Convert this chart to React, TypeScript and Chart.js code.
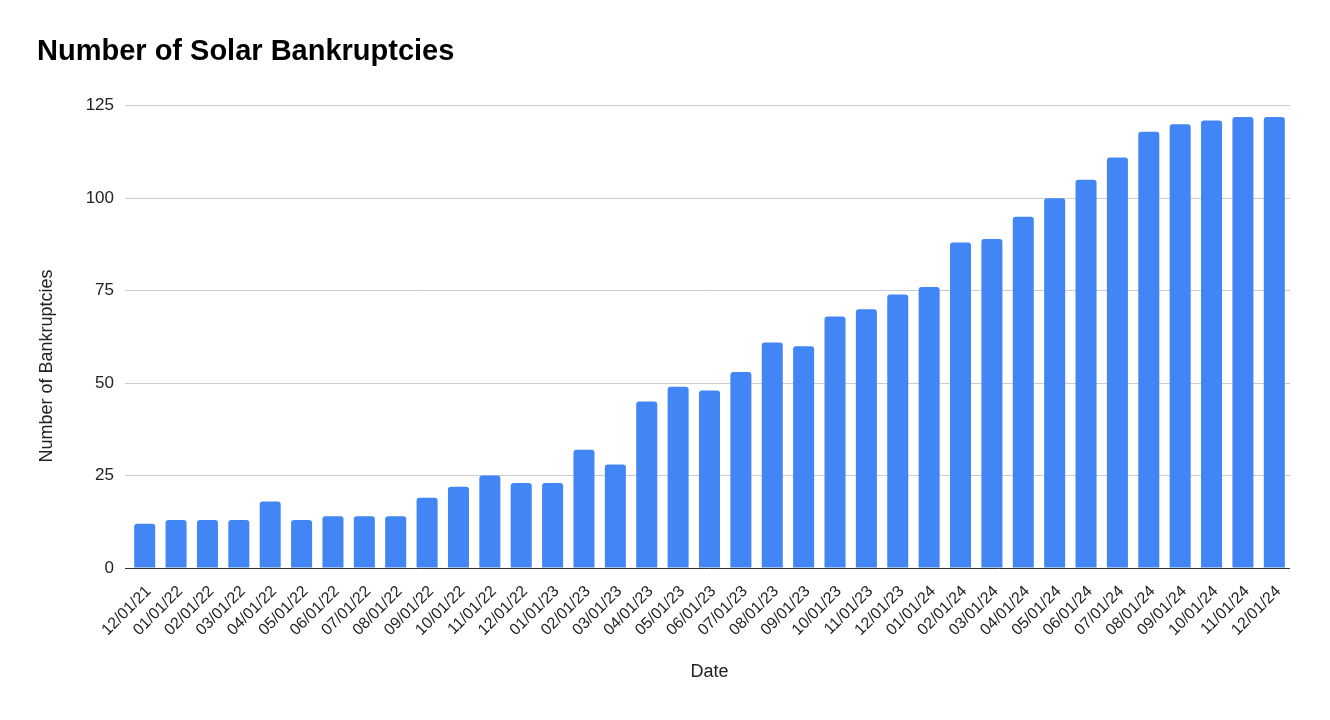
import { useEffect, useRef } from "react"
import Chart from "chart.js/auto"

const dates = [
  "12/01/21", "01/01/22", "02/01/22", "03/01/22", "04/01/22", "05/01/22", "06/01/22",
  "07/01/22", "08/01/22", "09/01/22", "10/01/22", "11/01/22", "12/01/22", "01/01/23",
  "02/01/23", "03/01/23", "04/01/23", "05/01/23", "06/01/23", "07/01/23", "08/01/23",
  "09/01/23", "10/01/23", "11/01/23", "12/01/23", "01/01/24", "02/01/24", "03/01/24",
  "04/01/24", "05/01/24", "06/01/24", "07/01/24", "08/01/24", "09/01/24", "10/01/24",
  "11/01/24", "12/01/24",
]

const bankruptcies = [
  12, 13, 13, 13, 18, 13, 14, 14, 14, 19, 22, 25, 23, 23, 32, 28, 45, 49, 48, 53, 61,
  60, 68, 70, 74, 76, 88, 89, 95, 100, 105, 111, 118, 120, 121, 122, 122,
]

const yTicks = [0, 25, 50, 75, 100, 125]

const FONT = "'Liberation Sans', Arial, sans-serif"
const Y_TITLE = "Number of Bankruptcies"

// the sheet centres the y title on the whole chart height, not the plot area
const yTitlePlugin = {
  id: "yTitle",
  afterDraw(chart: Chart) {
    const { ctx } = chart
    ctx.save()
    ctx.translate(47, 366)
    ctx.rotate(-Math.PI / 2)
    ctx.font = `18px ${FONT}`
    ctx.fillStyle = "#222"
    ctx.textAlign = "center"
    ctx.textBaseline = "middle"
    ctx.fillText(Y_TITLE, 0, 0)
    ctx.restore()
  },
}

export default function App() {
  const canvasRef = useRef<HTMLCanvasElement>(null)
  const chartRef = useRef<Chart | null>(null)

  useEffect(() => {
    if (!canvasRef.current) return
    if (chartRef.current) chartRef.current.destroy()

    const ctx = canvasRef.current.getContext("2d")
    if (!ctx) return

    chartRef.current = new Chart(ctx, {
      type: "bar",
      data: {
        labels: dates,
        datasets: [
          {
            label: Y_TITLE,
            data: bankruptcies,
            backgroundColor: "#4285F4",
            borderRadius: { topLeft: 3, topRight: 3, bottomLeft: 0, bottomRight: 0 },
            borderSkipped: "start",
            categoryPercentage: 1,
            barPercentage: 0.67,
          },
        ],
      },
      options: {
        responsive: true,
        maintainAspectRatio: false,
        animation: false,
        layout: {
          padding: { top: 0, left: 37, right: 40, bottom: 30 },
        },
        plugins: {
          legend: { display: false },
          tooltip: { enabled: false },
          title: {
            display: true,
            text: "Number of Solar Bankruptcies",
            align: "start",
            color: "#000",
            font: { family: FONT, size: 29, weight: "bold" },
            padding: { top: 35, bottom: 36 },
          },
        },
        scales: {
          x: {
            grid: { display: false, drawTicks: false },
            border: { display: false },
            ticks: {
              autoSkip: false,
              minRotation: 45,
              maxRotation: 45,
              padding: 14,
              labelOffset: 4,
              color: "#222",
              font: { family: FONT, size: 16 },
            },
            title: {
              display: true,
              text: "Date",
              color: "#222",
              font: { family: FONT, size: 18 },
              padding: { top: 0, bottom: 7 },
            },
            afterFit: (scale) => {
              scale.height = 122
            },
          },
          y: {
            min: 0,
            max: 125,
            afterBuildTicks: (scale) => {
              scale.ticks = yTicks.map((v) => ({ value: v }))
            },
            grid: {
              color: (c) => (c.tick && c.tick.value === 0 ? "#333" : "#cccccc"),
              tickLength: 4,
              drawTicks: true,
            },
            border: { display: false },
            ticks: {
              padding: 11,
              color: "#222",
              font: { family: FONT, size: 17 },
            },
            afterFit: (scale) => {
              scale.width = 92
            },
          },
        },
      },
      plugins: [yTitlePlugin],
    })

    return () => {
      if (chartRef.current) {
        chartRef.current.destroy()
        chartRef.current = null
      }
    }
  }, [])

  return (
    <div style={{ position: "fixed", left: 0, top: 0, width: 1330, height: 720, background: "#fff" }}>
      <canvas ref={canvasRef} />
    </div>
  )
}
